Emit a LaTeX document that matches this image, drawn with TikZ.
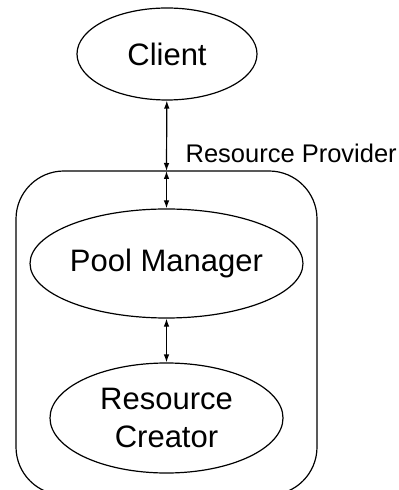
\documentclass[tikz,border=0pt]{standalone}
\usepackage{fontspec}
\setmainfont{Liberation Sans}
\usetikzlibrary{shapes.geometric,arrows.meta}
\begin{document}
\begin{tikzpicture}[x=0.5pt,y=-0.5pt,line width=0.6pt,>={Latex[length=4pt,width=2.8pt]},
	blob/.style={draw,ellipse,inner sep=0pt,align=center,font=\fontsize{15.5}{19}\selectfont}]
	\clip (0,0) rectangle (398,490);
	% the provider box runs off the bottom edge
	\draw[rounded corners=24pt] (16,171) rectangle (317,495);
	\path
	(167,54) node[blob,minimum width=90pt,minimum height=46pt] (client) {Client}
	(166.5,263.5) node[blob,minimum width=116.5pt,minimum height=54.5pt] (manager) {Pool Manager}
	(166.5,418) node[blob,minimum width=116.5pt,minimum height=55pt] (creator) {Resource\\Creator}
	(166.5,171) coordinate (top)
	(185,163) node[anchor=base west,inner sep=0pt,font=\fontsize{12.75}{15}\selectfont] (provider) {Resource Provider}
	;
	\draw[<->] (client) -- (top);
	\draw[<->] (top) -- (manager);
	\draw[<->] (manager) -- (creator);
\end{tikzpicture}
\end{document}
